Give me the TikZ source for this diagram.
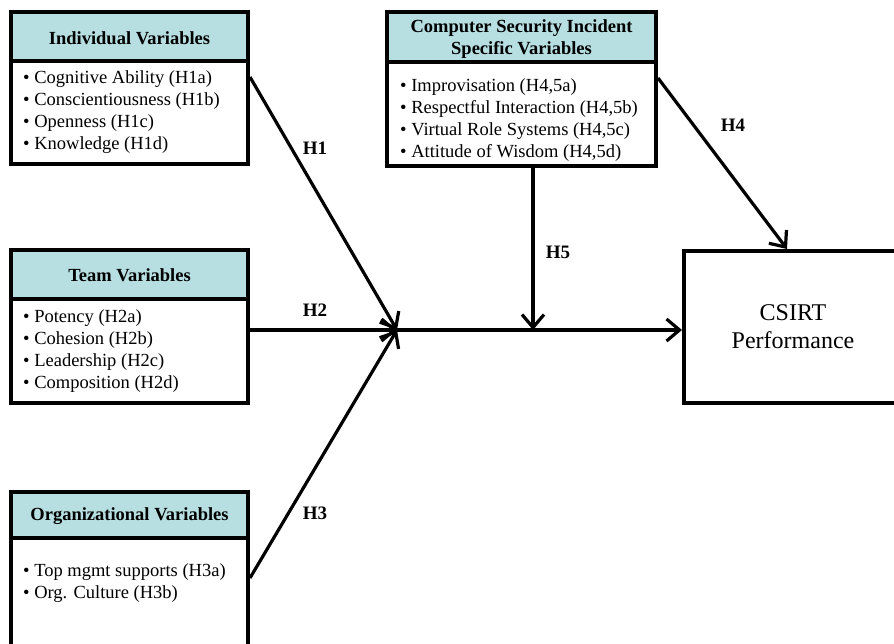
\documentclass[tikz,border=0pt]{standalone}
\usepackage{fontspec}
\setmainfont{Liberation Serif}
\usetikzlibrary{arrows.meta}
\definecolor{hdrcol}{RGB}{183,223,226}
\tikzset{
  box/.style={draw, line width=4pt, rectangle, inner sep=0pt},
  hdr/.style={draw, line width=4pt, fill=hdrcol, rectangle, inner sep=0pt},
  hdrtext/.style={inner sep=0pt, align=center,
    font=\fontsize{18.5}{22}\selectfont\bfseries},
  body/.style={anchor=north west, inner sep=0pt, align=left,
    font=\fontsize{18.5}{22}\selectfont},
  lbl/.style={inner sep=0pt, font=\fontsize{19}{22}\selectfont\bfseries},
  arr/.style={line width=3.2pt, -{Straight Barb[length=13pt,width=22pt]}}
}
\begin{document}
\begin{tikzpicture}[x=1pt,y=-1pt]
\useasboundingbox (0,0) rectangle (894,643);
\clip (0,0) rectangle (894,643);

% Individual
\node[box, minimum width=237pt, minimum height=152pt] (ind) at (129.5,88) {};
\node[hdr, minimum width=237pt, minimum height=49pt] (indh) at (129.5,36.5) {};
\node[hdrtext] (indht) at (129.5,38) {Individual Variables};
\node[body] (indt) at (23,70) {• Cognitive Ability (H1a)\\• Conscientiousness (H1b)\\• Openness (H1c)\\• Knowledge (H1d)};

% Team
\node[box, minimum width=237pt, minimum height=153pt] (team) at (129.5,326.5) {};
\node[hdr, minimum width=237pt, minimum height=49pt] (teamh) at (129.5,274.5) {};
\node[hdrtext] (teamht) at (129.5,275.5) {Team Variables};
\node[body] (teamt) at (23,309.5) {• Potency (H2a)\\• Cohesion (H2b)\\• Leadership (H2c)\\• Composition (H2d)};

% Organizational
\node[box, minimum width=237pt, minimum height=200pt] (org) at (129.5,592) {};
\node[hdr, minimum width=237pt, minimum height=46pt] (orgh) at (129.5,515) {};
\node[hdrtext] (orght) at (129.5,516) {Organizational Variables};
\node[body] (orgt) at (23,563) {• Top mgmt supports (H3a)\\• Org. Culture (H3b)};

% Computer security
\node[box, minimum width=269pt, minimum height=154pt] (comp) at (521.5,89) {};
\node[hdr, minimum width=269pt, minimum height=50pt] (comph) at (521.5,37) {};
\node[hdrtext] (compht) at (521.5,39) {Computer Security Incident\\Specific Variables};
\node[body] (compt) at (400,78.5) {• Improvisation (H4,5a)\\• Respectful Interaction (H4,5b)\\• Virtual Role Systems (H4,5c)\\• Attitude of Wisdom (H4,5d)};

% CSIRT
\node[box, minimum width=218pt, minimum height=152pt, align=center,
  font=\fontsize{24}{28}\selectfont] (csirt) at (793,327) {CSIRT\\Performance};

% junctions
\coordinate (J) at (397,330);
\coordinate (K) at (533,330);

% connectors
\draw[arr] ([yshift=11pt]ind.east) -- (J);
\draw[arr] (J -| team.east) -- (J);
\draw[arr] ([yshift=-88pt]org.north east) -- (J);
\draw[arr] (J) -- (J -| csirt.west);
\draw[arr] (K |- comp.south) -- (K);
\draw[arr] ([yshift=11pt]comp.east) -- ([xshift=-6pt]csirt.north);

% labels
\node[lbl] (l1) at (315,148) {H1};
\node[lbl] (l2) at (315,310) {H2};
\node[lbl] (l3) at (315,513) {H3};
\node[lbl] (l4) at (733,125) {H4};
\node[lbl] (l5) at (558,252) {H5};
\end{tikzpicture}
\end{document}
